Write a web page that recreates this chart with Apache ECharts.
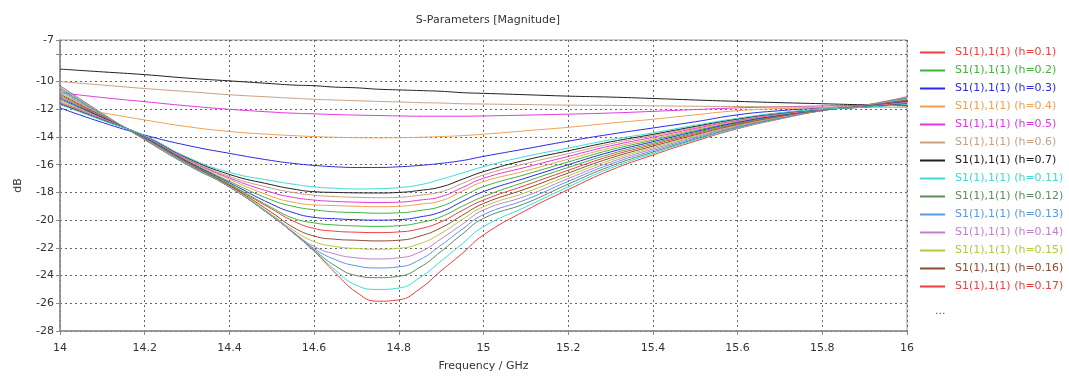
<!DOCTYPE html>
<html><head><meta charset="utf-8">
<script src="https://cdn.jsdelivr.net/npm/echarts@6/dist/echarts.min.js"></script>
<style>html,body{margin:0;padding:0;background:#fff;}#c{width:1069px;height:381px;}</style>
</head><body><div id="c"></div>
<script>
const freqGHz = [14.0, 14.1, 14.2, 14.3, 14.4, 14.5, 14.55, 14.6, 14.65, 14.7, 14.75, 14.8, 14.85, 14.9, 14.95, 15.0, 15.1, 15.2, 15.3, 15.4, 15.5, 15.6, 15.7, 15.8, 15.9, 16.0];

const h0_1  = [-10.3, -12.3, -14.2, -16.0, -17.6, -19.7, -20.9, -22.25, -23.8, -25.2, -25.85, -25.75, -24.95, -23.65, -22.4, -21.07, -19.3, -17.8, -16.4, -15.3, -14.3, -13.4, -12.7, -12.1, -11.7, -11.1];
const h0_2  = [-11.3, -12.63, -14.0, -15.7, -17.2, -18.55, -19.0, -19.25, -19.4, -19.45, -19.5, -19.47, -19.3, -19.0, -18.3, -17.58, -16.7, -15.8, -14.93, -14.23, -13.53, -12.9, -12.4, -12.03, -11.8, -11.47];
const h0_3  = [-11.9, -12.95, -13.86, -14.6, -15.18, -15.7, -15.9, -16.05, -16.15, -16.2, -16.2, -16.15, -16.05, -15.9, -15.7, -15.4, -14.85, -14.3, -13.8, -13.35, -12.9, -12.4, -12.1, -11.9, -11.75, -11.45];
const h0_4  = [-11.7, -12.25, -12.77, -13.25, -13.6, -13.82, -13.9, -13.97, -14.02, -14.05, -14.06, -14.05, -14.02, -13.97, -13.9, -13.8, -13.55, -13.3, -13.0, -12.72, -12.4, -12.1, -11.95, -11.88, -11.75, -11.55];
const h0_5  = [-10.8, -11.15, -11.45, -11.75, -12.0, -12.2, -12.28, -12.33, -12.38, -12.42, -12.45, -12.48, -12.5, -12.5, -12.5, -12.48, -12.42, -12.35, -12.27, -12.15, -12.02, -11.9, -11.82, -11.76, -11.7, -11.6];
const h0_6  = [-10.0, -10.25, -10.5, -10.72, -10.95, -11.12, -11.2, -11.28, -11.33, -11.38, -11.43, -11.47, -11.52, -11.55, -11.6, -11.62, -11.66, -11.7, -11.72, -11.75, -11.78, -11.8, -11.83, -11.85, -11.85, -11.85];
const h0_7  = [-9.1, -9.3, -9.5, -9.75, -9.95, -10.15, -10.25, -10.3, -10.4, -10.45, -10.55, -10.6, -10.65, -10.7, -10.8, -10.85, -10.95, -11.05, -11.12, -11.22, -11.33, -11.43, -11.52, -11.6, -11.68, -11.75];
const h0_11 = [-10.4, -12.33, -14.18, -16.0, -17.6, -19.7, -20.9, -22.2, -23.6, -24.7, -25.0, -24.9, -24.15, -22.95, -21.7, -20.47, -19.04, -17.6, -16.25, -15.19, -14.22, -13.35, -12.67, -12.09, -11.71, -11.14];
const h0_12 = [-10.5, -12.37, -14.16, -15.95, -17.6, -19.7, -20.9, -22.15, -23.3, -24.0, -24.15, -24.05, -23.4, -22.25, -21.0, -19.87, -18.78, -17.4, -16.11, -15.09, -14.15, -13.3, -12.64, -12.09, -11.72, -11.17];
const h0_13 = [-10.6, -12.4, -14.14, -15.95, -17.6, -19.7, -20.85, -22.05, -22.85, -23.3, -23.45, -23.37, -22.85, -21.8, -20.65, -19.6, -18.52, -17.2, -15.96, -14.98, -14.07, -13.25, -12.61, -12.08, -11.73, -11.21];
const h0_14 = [-10.7, -12.43, -14.12, -15.9, -17.55, -19.65, -20.85, -21.9, -22.45, -22.72, -22.8, -22.72, -22.3, -21.35, -20.3, -19.27, -18.26, -17.0, -15.81, -14.87, -13.99, -13.2, -12.58, -12.07, -11.74, -11.25];
const h0_15 = [-10.8, -12.47, -14.1, -15.9, -17.55, -19.6, -20.7, -21.55, -21.9, -22.05, -22.1, -22.03, -21.7, -20.95, -19.95, -19.03, -18.0, -16.8, -15.67, -14.77, -13.92, -13.15, -12.55, -12.07, -11.75, -11.28];
const h0_16 = [-10.9, -12.5, -14.08, -15.85, -17.5, -19.45, -20.5, -21.15, -21.38, -21.45, -21.5, -21.45, -21.15, -20.55, -19.65, -18.8, -17.74, -16.6, -15.52, -14.66, -13.84, -13.1, -12.52, -12.06, -11.76, -11.32];
const h0_17 = [-11.0, -12.53, -14.06, -15.85, -17.45, -19.2, -20.05, -20.6, -20.8, -20.87, -20.9, -20.85, -20.62, -20.12, -19.3, -18.55, -17.48, -16.4, -15.37, -14.55, -13.76, -13.05, -12.49, -12.05, -11.77, -11.36];
const h0_18 = [-11.1, -12.57, -14.04, -15.8, -17.4, -19.1, -19.85, -20.2, -20.35, -20.42, -20.45, -20.4, -20.18, -19.75, -19.0, -18.3, -17.22, -16.2, -15.23, -14.45, -13.69, -13.0, -12.46, -12.05, -11.78, -11.39];
const h0_19 = [-11.2, -12.6, -14.02, -15.75, -17.3, -18.85, -19.45, -19.8, -19.9, -19.97, -20.0, -19.96, -19.77, -19.4, -18.65, -17.94, -16.96, -16.0, -15.08, -14.34, -13.61, -12.95, -12.43, -12.04, -11.79, -11.43];
const h0_21 = [-11.4, -12.67, -13.98, -15.65, -17.05, -18.3, -18.7, -18.9, -18.95, -19.0, -19.03, -19.0, -18.85, -18.6, -17.9, -17.22, -16.44, -15.6, -14.79, -14.13, -13.46, -12.85, -12.37, -12.03, -11.81, -11.5];
const h0_22 = [-11.5, -12.7, -13.96, -15.6, -16.95, -18.0, -18.35, -18.55, -18.65, -18.7, -18.73, -18.7, -18.55, -18.3, -17.65, -16.98, -16.18, -15.4, -14.64, -14.02, -13.38, -12.8, -12.34, -12.02, -11.82, -11.54];
const h0_23 = [-11.55, -12.73, -13.94, -15.55, -16.85, -17.7, -18.0, -18.2, -18.3, -18.35, -18.38, -18.35, -18.2, -17.95, -17.35, -16.74, -15.92, -15.2, -14.49, -13.91, -13.3, -12.75, -12.31, -12.01, -11.83, -11.58];
const h0_24 = [-11.6, -12.77, -13.92, -15.5, -16.7, -17.45, -17.75, -17.95, -18.0, -18.03, -18.04, -18.0, -17.85, -17.6, -17.05, -16.5, -15.66, -15.0, -14.35, -13.81, -13.23, -12.7, -12.28, -12.01, -11.84, -11.61];
const h0_25 = [-11.65, -12.8, -13.9, -15.45, -16.55, -17.15, -17.4, -17.6, -17.7, -17.75, -17.73, -17.65, -17.45, -17.05, -16.6, -16.14, -15.4, -14.8, -14.2, -13.7, -13.15, -12.65, -12.25, -12.0, -11.85, -11.65];

const hLabels = ['0.1','0.2','0.3','0.4','0.5','0.6','0.7','0.11','0.12','0.13','0.14','0.15','0.16','0.17','0.18','0.19','0.21','0.22','0.23','0.24','0.25'];
const hValues = [h0_1,h0_2,h0_3,h0_4,h0_5,h0_6,h0_7,h0_11,h0_12,h0_13,h0_14,h0_15,h0_16,h0_17,h0_18,h0_19,h0_21,h0_22,h0_23,h0_24,h0_25];
const legendCount = 14;
const yTickLabels = [-28,-26,-24,-22,-20,-18,-16,-14,-12,-10,-7];

const palette = ['#f03c3c','#3cb43c','#2a2ae6','#f0a050','#e236e2','#c8a082','#202020','#3cdada','#5e8a5e','#5a96e6','#c080c8','#b4c83c','#8c4a36'];

const chart = echarts.init(document.getElementById('c'), null, {renderer:'canvas'});
const FONT = 'DejaVu Sans';
const series = hLabels.map((h, i) => ({
  name: 'S1(1),1(1) (h=' + h + ')',
  type: 'line',
  data: freqGHz.map((f, k) => [f, hValues[i][k]]),
  symbol: 'none',
  smooth: 0.5,
  lineStyle: { width: 1, color: palette[i % palette.length] },
  itemStyle: { color: palette[i % palette.length] },
  z: 3
}));

chart.setOption({
  animation: false,
  backgroundColor: '#fff',
  title: {
    text: 'S-Parameters [Magnitude]',
    left: 483, top: 10, textAlign: 'center',
    textStyle: { fontFamily: FONT, fontSize: 11, fontWeight: 'normal', color: '#333' }
  },
  grid: { left: 60, right: 162, top: 40, bottom: 50, show: true, borderColor: '#9a9a9a', borderWidth: 1 },
  legend: {
    orient: 'vertical', left: 920, top: 47, padding: 0,
    icon: 'rect', itemWidth: 25, itemHeight: 2, itemGap: 7,
    textStyle: { fontFamily: FONT, fontSize: 11, padding: [0,0,0,5] },
    data: hLabels.slice(0, legendCount).map((h, i) => ({
      name: 'S1(1),1(1) (h=' + h + ')',
      itemStyle: { color: palette[i % palette.length], borderWidth: 0 },
      textStyle: { color: palette[i % palette.length] }
    })),
    selectedMode: false
  },
  graphic: [{
    type: 'text', left: 935, top: 306,
    style: { text: '...', fontFamily: FONT, fontSize: 11, fill: '#555' }
  }],
  xAxis: {
    type: 'value', min: 14, max: 16, interval: 0.2,
    name: 'Frequency / GHz', nameLocation: 'middle', nameGap: 30,
    nameTextStyle: { fontFamily: FONT, fontSize: 11, color: '#333' },
    axisLine: { show: true, lineStyle: { color: '#8a8a8a', width: 1.5 } },
    axisTick: { show: true, inside: false, length: 4, lineStyle: { color: '#8a8a8a' } },
    axisLabel: { fontFamily: FONT, fontSize: 11, color: '#333', margin: 12,
      formatter: v => String(Math.round(v * 10) / 10) },
    splitLine: { show: true, lineStyle: { color: '#666', type: [2, 3], width: 1 } }
  },
  yAxis: {
    type: 'value', min: -28, max: -7, interval: 2,
    name: 'dB', nameLocation: 'middle', nameGap: 36, nameRotate: 90,
    nameTextStyle: { fontFamily: FONT, fontSize: 11, color: '#333' },
    axisLine: { show: true, lineStyle: { color: '#8a8a8a', width: 1.5 } },
    axisTick: { show: true, inside: false, length: 4, lineStyle: { color: '#8a8a8a' } },
    axisLabel: { fontFamily: FONT, fontSize: 11, color: '#333', margin: 6,
      formatter: v => (yTickLabels.indexOf(Math.round(v)) >= 0 ? String(Math.round(v)) : '') },
    splitLine: { show: true, lineStyle: { color: '#666', type: [2, 3], width: 1 } }
  },
  series: series
});
</script></body></html>
